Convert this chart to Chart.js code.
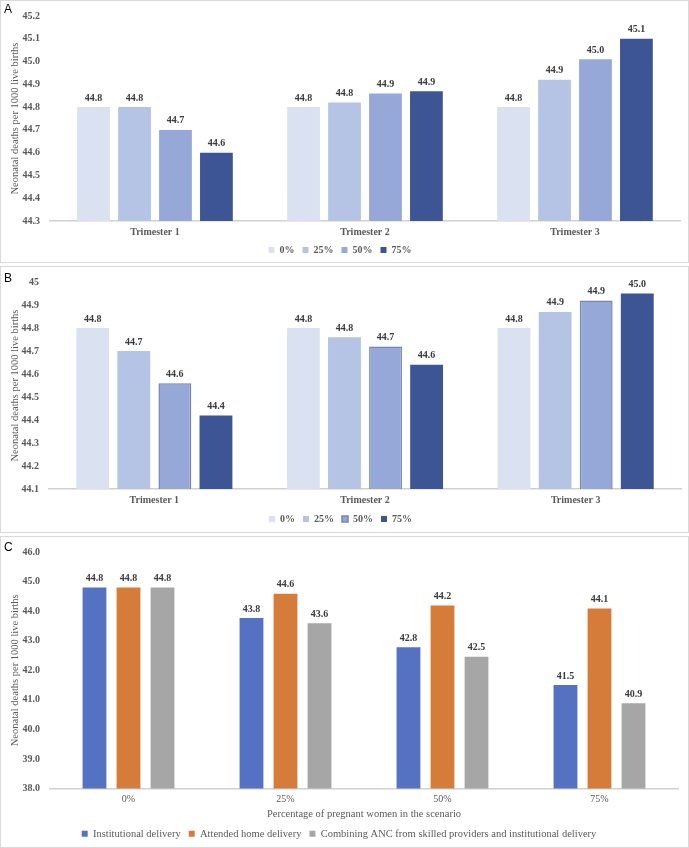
<!DOCTYPE html>
<html>
<head>
<meta charset="utf-8">
<script src="https://cdn.jsdelivr.net/npm/chart.js@4.4.0/dist/chart.umd.min.js"></script>
<style>
  body { margin: 0; background: #fff; width: 689px; height: 848px; position: relative; overflow: hidden; }
  .panel { position: absolute; left: 0; width: 687px; border: 1px solid #d9d9d9; }
  .wrap { position: absolute; left: 0; width: 689px; }
  .tag { position: absolute; left: 4px; font: 12px "Liberation Sans", Arial, sans-serif; color: #000; }
  canvas { display: block; }
</style>
</head>
<body>
<div class="panel" style="top:0;height:261px"></div>
<div class="panel" style="top:266px;height:265px"></div>
<div class="panel" style="top:536px;height:310px"></div>

<div class="wrap" style="top:0"><canvas id="chartA" width="689" height="265"></canvas></div>
<div class="wrap" style="top:266px"><canvas id="chartB" width="689" height="268"></canvas></div>
<div class="wrap" style="top:536px"><canvas id="chartC" width="689" height="313"></canvas></div>

<div class="tag" style="top:2px">A</div>
<div class="tag" style="top:271px">B</div>
<div class="tag" style="top:540px">C</div>

<script>
// --- datos ---
const trimestres = ["Trimester 1", "Trimester 2", "Trimester 3"];
const coberturas = ["0%", "25%", "50%", "75%"];

// panel A
const a0 = [44.8, 44.8, 44.8];
const a25 = [44.8, 44.82, 44.92];
const a50 = [44.7, 44.86, 45.01];
const a75 = [44.6, 44.87, 45.1];

// panel B
const b0 = [44.8, 44.8, 44.8];
const b25 = [44.7, 44.76, 44.87];
const b50 = [44.56, 44.72, 44.92];
const b75 = [44.42, 44.64, 44.95];

// panel C
const porcentajes = ["0%", "25%", "50%", "75%"];
const institucional = [44.8, 43.77, 42.78, 41.5];
const domicilio = [44.8, 44.59, 44.19, 44.09];
const combinado = [44.8, 43.59, 42.46, 40.88];
const nombresC = ["Institutional delivery", "Attended home delivery",
  "Combining ANC from skilled providers and institutional delivery"];

const coloresAzul = ["#dae1f0", "#b5c4e4", "#95a8d8", "#3d5595"];
const coloresC = ["#5572c2", "#d67c3a", "#a6a6a6"];

const SERIF = '"Liberation Serif", "Times New Roman", serif';
const GRIS = "#595959";
const tituloY = "Neonatal deaths per 1000 live births";

// etiquetas de valor encima de cada barra
const etiquetasValor = {
  id: "etiquetasValor",
  afterDatasetsDraw(chart) {
    const ctx = chart.ctx;
    ctx.save();
    ctx.font = "bold 10px " + SERIF;
    ctx.fillStyle = "#3a3a3a";
    ctx.textAlign = "center";
    ctx.textBaseline = "bottom";
    chart.data.datasets.forEach((ds, i) => {
      chart.getDatasetMeta(i).data.forEach((bar, j) => {
        ctx.fillText(ds.data[j].toFixed(1), bar.x, bar.y - 4);
      });
    });
    ctx.restore();
  }
};

function opciones(cfg) {
  return {
    responsive: false,
    animation: false,
    layout: { padding: { top: cfg.top, right: cfg.right, left: 0, bottom: 0 } },
    plugins: {
      legend: {
        position: "bottom",
        labels: {
          boxWidth: 6, boxHeight: 6, padding: 8, color: GRIS,
          font: { family: SERIF, size: cfg.legendSize || 10, weight: cfg.legendWeight || "bold" }
        }
      },
      tooltip: { enabled: false }
    },
    scales: {
      x: {
        grid: { display: false, drawTicks: false },
        border: { display: true, color: "#d0d0d0", width: 1.5 },
        ticks: { color: GRIS, padding: 5, font: { family: SERIF, size: 10, weight: cfg.xWeight || "bold" } },
        title: cfg.xTitle ? {
          display: true, text: cfg.xTitle, color: GRIS,
          font: { family: SERIF, size: 10.5 }, padding: { top: 0, bottom: 0 }
        } : { display: false },
        afterFit: s => { s.height = cfg.xHeight; }
      },
      y: {
        min: cfg.min, max: cfg.max,
        grid: { display: false, drawTicks: false },
        border: { display: false },
        ticks: {
          stepSize: cfg.step, color: GRIS, padding: 10,
          font: { family: SERIF, size: 10, weight: "bold" },
          callback: cfg.fmt
        },
        title: {
          display: true, text: tituloY, color: GRIS,
          font: { family: SERIF, size: 10.5 }, padding: { top: 9, bottom: 0 }
        },
        afterFit: s => { s.width = cfg.left; }
      }
    }
  };
}

function seriesAzules(listas, destacado) {
  return listas.map((d, i) => ({
    label: coberturas[i],
    data: d,
    backgroundColor: coloresAzul[i],
    borderColor: (destacado === i) ? "#7584b0" : coloresAzul[i],
    borderWidth: (destacado === i) ? 1.5 : 0,
    categoryPercentage: 0.78,
    barPercentage: 0.8
  }));
}

new Chart(document.getElementById("chartA"), {
  type: "bar",
  data: { labels: trimestres, datasets: seriesAzules([a0, a25, a50, a75], -1) },
  options: opciones({ top: 8, right: 9, left: 50, xHeight: 16, min: 44.3, max: 45.2, step: 0.1,
    fmt: v => Number(v).toFixed(1) }),
  plugins: [etiquetasValor]
});

new Chart(document.getElementById("chartB"), {
  type: "bar",
  data: { labels: trimestres, datasets: seriesAzules([b0, b25, b50, b75], 2) },
  options: opciones({ top: 11, right: 8, left: 49, xHeight: 17, min: 44.1, max: 45, step: 0.1,
    fmt: v => String(Number(Number(v).toFixed(1))) }),
  plugins: [etiquetasValor]
});

new Chart(document.getElementById("chartC"), {
  type: "bar",
  data: {
    labels: porcentajes,
    datasets: [institucional, domicilio, combinado].map((d, i) => ({
      label: nombresC[i],
      data: d,
      backgroundColor: coloresC[i],
      categoryPercentage: 0.65,
      barPercentage: 0.7
    }))
  },
  options: opciones({ top: 10, right: 11, left: 50, xHeight: 32, min: 38, max: 46, step: 1,
    fmt: v => Number(v).toFixed(1), xTitle: "Percentage of pregnant women in the scenario",
    xWeight: "normal", legendWeight: "normal", legendSize: 10.5 }),
  plugins: [etiquetasValor]
});
</script>
</body>
</html>
